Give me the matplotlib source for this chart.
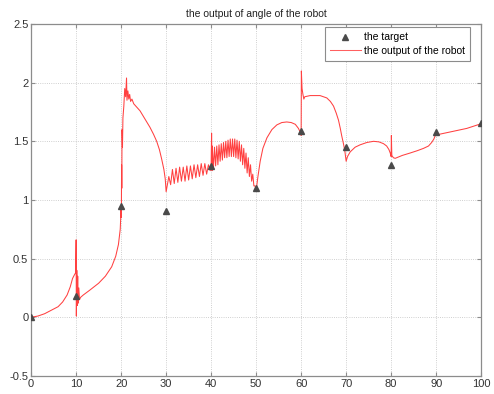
#!/usr/bin/env python
''' output angle of the robot vs target '''
import matplotlib
matplotlib.use('Agg')
import matplotlib.pyplot as plt
from matplotlib.ticker import FormatStrFormatter

# target points
target_x = [0, 10, 20, 30, 40, 50, 60, 70, 80, 90, 100]
target_y = [0.0, 0.18, 0.95, 0.91, 1.29, 1.10, 1.59, 1.45, 1.30, 1.58, 1.66]

# robot output
seg_a_x = [0, 1.5, 3, 4.5, 6, 7, 8, 8.7, 9.2, 9.6, 9.9,
           10.0, 10.05, 10.15, 10.25, 10.35, 10.45, 10.6, 10.75, 11.0, 11.6,
           13, 15, 16.5, 17.9, 18.8, 19.4, 19.8, 20.0]
seg_a_y = [0.0, 0.01, 0.03, 0.06, 0.09, 0.13, 0.19, 0.26, 0.33, 0.36, 0.38,
           0.66, 0.01, 0.40, 0.10, 0.35, 0.12, 0.25, 0.15, 0.17, 0.19,
           0.23, 0.29, 0.35, 0.43, 0.52, 0.62, 0.75, 0.93]

seg_b_x = [20.05, 20.1, 20.15, 20.2, 20.3, 20.4, 20.6, 20.8, 21.0, 21.2,
           21.3, 21.5, 21.7, 21.9, 22.1, 22.4, 22.8, 23.5, 24.2, 25.3,
           26.4, 27.2, 27.9, 28.5, 29.0, 29.5, 29.8, 30.0]
seg_b_y = [0.85, 1.3, 1.1, 1.6, 1.45, 1.7, 1.8, 1.95, 1.88, 2.04,
           1.85, 1.93, 1.86, 1.9, 1.84, 1.86, 1.82, 1.79, 1.76, 1.69,
           1.62, 1.56, 1.50, 1.43, 1.35, 1.26, 1.18, 1.07]

seg_c_x = [30.6, 31.0, 31.4, 31.8, 32.2, 32.6, 33.0, 33.4, 33.8, 34.2,
           34.6, 35.0, 35.4, 35.8, 36.2, 36.6, 37.0, 37.4, 37.8, 38.2,
           38.6, 39.0, 39.4, 39.8, 40.0, 40.1, 40.2]
seg_c_y = [1.20, 1.13, 1.26, 1.14, 1.27, 1.15, 1.28, 1.16, 1.28, 1.16,
           1.29, 1.17, 1.29, 1.18, 1.30, 1.19, 1.30, 1.20, 1.31, 1.21,
           1.31, 1.22, 1.30, 1.25, 1.30, 1.57, 1.25]

seg_d_x = [40.25, 40.5, 40.75, 41.0, 41.25, 41.5, 41.75, 42.0, 42.25, 42.5,
           42.75, 43.0, 43.25, 43.5, 43.75, 44.0, 44.25, 44.5, 44.75, 45.0,
           45.25, 45.5, 45.75, 46.0, 46.25, 46.5, 46.75, 47.0, 47.25, 47.5,
           47.75, 48.0, 48.25, 48.5, 48.75, 49.0, 49.25, 49.5, 49.75, 50.0]
seg_d_y = [1.46, 1.26, 1.45, 1.29, 1.46, 1.30, 1.47, 1.33, 1.48, 1.34,
           1.49, 1.36, 1.50, 1.36, 1.51, 1.37, 1.52, 1.37, 1.52, 1.37,
           1.52, 1.36, 1.51, 1.35, 1.50, 1.33, 1.47, 1.30, 1.44, 1.27,
           1.40, 1.23, 1.36, 1.20, 1.30, 1.16, 1.22, 1.12, 1.12, 1.08]

seg_e_x = [50.4, 50.9, 51.5, 52.4, 53.5, 54.6, 55.7, 56.8, 57.8, 58.7,
           59.4, 59.9, 60.0, 60.05, 60.2, 60.4, 60.6, 60.8, 62, 64.2,
           65.7, 66.5, 67.2, 67.8, 68.3, 68.7, 69.0, 69.4, 69.7, 70.0]
seg_e_y = [1.20, 1.33, 1.44, 1.53, 1.60, 1.64, 1.66, 1.665, 1.66, 1.645,
           1.61, 1.57, 1.55, 2.10, 1.95, 1.90, 1.86, 1.88, 1.89, 1.89,
           1.87, 1.84, 1.80, 1.74, 1.68, 1.61, 1.55, 1.48, 1.42, 1.33]

seg_f_x = [70.3, 70.9, 72.0, 73.1, 74.6, 76.1, 77.3, 78.3, 79.0, 79.5,
           79.8, 80.0, 80.05, 80.15, 80.5, 80.9, 82.5, 84.2, 85.8, 87.2,
           88.3, 89.0, 89.5, 89.8, 90.0, 90.3, 90.7, 93.1, 96.8, 100]
seg_f_y = [1.37, 1.41, 1.45, 1.47, 1.49, 1.50, 1.495, 1.48, 1.46, 1.43,
           1.40, 1.37, 1.55, 1.38, 1.36, 1.355, 1.38, 1.40, 1.42, 1.44,
           1.46, 1.49, 1.52, 1.55, 1.58, 1.56, 1.56, 1.58, 1.61, 1.65]

robot_x = seg_a_x + seg_b_x + seg_c_x + seg_d_x + seg_e_x + seg_f_x
robot_y = seg_a_y + seg_b_y + seg_c_y + seg_d_y + seg_e_y + seg_f_y

plt.rcParams['font.family'] = ['Liberation Sans', 'DejaVu Sans']
EDGE = '#8c8c8c'

fig = plt.figure(figsize=(4.94, 3.94), dpi=100)
ax = fig.add_axes([0.063, 0.046, 0.911, 0.893])

ax.plot(target_x, target_y, '^', color='#4a4a4a', markersize=5,
        label='the target', zorder=3)
ax.plot(robot_x, robot_y, '-', color='#ff4040', linewidth=0.75,
        label='the output of the robot', zorder=2)

ax.set_xlim(0, 100)
ax.set_ylim(-0.5, 2.5)
ax.set_xticks(range(0, 101, 10))
ax.set_yticks([-0.5, 0, 0.5, 1, 1.5, 2, 2.5])
ax.yaxis.set_major_formatter(FormatStrFormatter('%g'))
ax.grid(True, linestyle=':', color='#c0c0c0', linewidth=0.6)
ax.tick_params(direction='in', top=True, right=True, length=3,
               labelsize=8, color=EDGE, labelcolor='#333333', pad=2)
for sp in ax.spines.values():
    sp.set_color(EDGE)
    sp.set_linewidth(0.9)

ax.set_title('the output of angle of the robot', fontsize=7.5, pad=5,
             color='#222222')
leg = ax.legend(loc='upper right', fontsize=7.5, fancybox=False,
                framealpha=1, edgecolor=EDGE, borderpad=0.5,
                handlelength=3.0, handletextpad=0.3, labelspacing=0.3,
                borderaxespad=0, bbox_to_anchor=(0.976, 0.991))
leg.get_frame().set_linewidth(0.8)
leg.get_lines()[1].set_color('#ff6060')

fig.savefig('out.png', dpi=100)
